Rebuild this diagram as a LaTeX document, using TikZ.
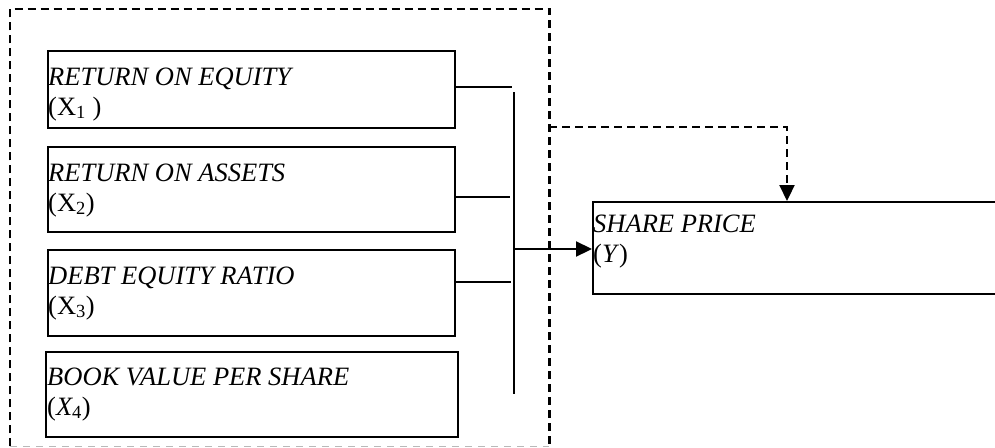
\documentclass[tikz,border=0pt]{standalone}
\usepackage{fontspec}
\setmainfont{Liberation Serif}
\usetikzlibrary{arrows.meta}
\tikzset{
  box/.style={draw, line width=2pt, rectangle, inner sep=0pt, anchor=north west},
  lbl/.style={anchor=north west, inner sep=0pt, align=left, font=\fontsize{26.5}{29.5}\selectfont\itshape},
  conn/.style={line width=2.2pt},
  dsh/.style={line width=2.2pt, dash pattern=on 8pt off 5pt},
  tip/.style={-{Triangle[length=16pt,width=15pt]}}
}
\begin{document}
\begin{tikzpicture}[x=1pt,y=-1pt]
\useasboundingbox (0,0) rectangle (995,447);
% group frame
\node[inner sep=0pt, minimum width=539pt, minimum height=437pt, anchor=north west] (grp) at (10,9) {};
\draw[dsh] (grp.south west) -- (grp.north west) -- (grp.north east) -- (grp.south east);
\draw[line width=1.5pt, gray!55, dash pattern=on 7pt off 6pt] (grp.south west) -- (grp.south east);
% boxes
\node[box, minimum width=407pt, minimum height=77pt] (b1) at (47,50) {};
\node[box, minimum width=407pt, minimum height=85pt] (b2) at (47,146) {};
\node[box, minimum width=407pt, minimum height=86pt] (b3) at (47,249) {};
\node[box, minimum width=412pt, minimum height=85pt] (b4) at (45,351) {};
\node[box, minimum width=420pt, minimum height=92pt] (y) at (592,201) {};
% labels
\node[lbl] (t1) at (48,68) {RETURN ON EQUITY\\\textup{(X\textsubscript{1} )}};
\node[lbl] (t2) at (48,164) {RETURN ON ASSETS\\\textup{(X\textsubscript{2})}};
\node[lbl] (t3) at (48,267) {DEBT EQUITY RATIO\\\textup{(X\textsubscript{3})}};
\node[lbl] (t4) at (47,368) {BOOK VALUE PER SHARE\\\textup{(}X\textsubscript{\textup{4}}\textup{)}};
\node[lbl] (ty) at (593,215) {SHARE PRICE\\\textup{(}Y\textup{)}};
% bus
\coordinate (bt) at (514,92);
\coordinate (bb) at (514,394);
\draw[conn] (bt) -- (bb);
\draw[conn, shorten >=2pt] ([yshift=-37pt]b1.north east) -- ([yshift=-37pt]b1.north east -| bt);
\draw[conn, shorten >=4pt] ([yshift=-51pt]b2.north east) -- ([yshift=-51pt]b2.north east -| bt);
\draw[conn, shorten >=3pt] ([yshift=-33pt]b3.north east) -- ([yshift=-33pt]b3.north east -| bt);
\draw[conn, tip] ([yshift=-48pt]y.north west -| bt) -- ([yshift=-48pt]y.north west);
% feedback
\coordinate (fb) at (grp.east |- 0,127);
\draw[dsh, tip] (fb) -| ([xshift=195pt]y.north west);
\end{tikzpicture}
\end{document}
